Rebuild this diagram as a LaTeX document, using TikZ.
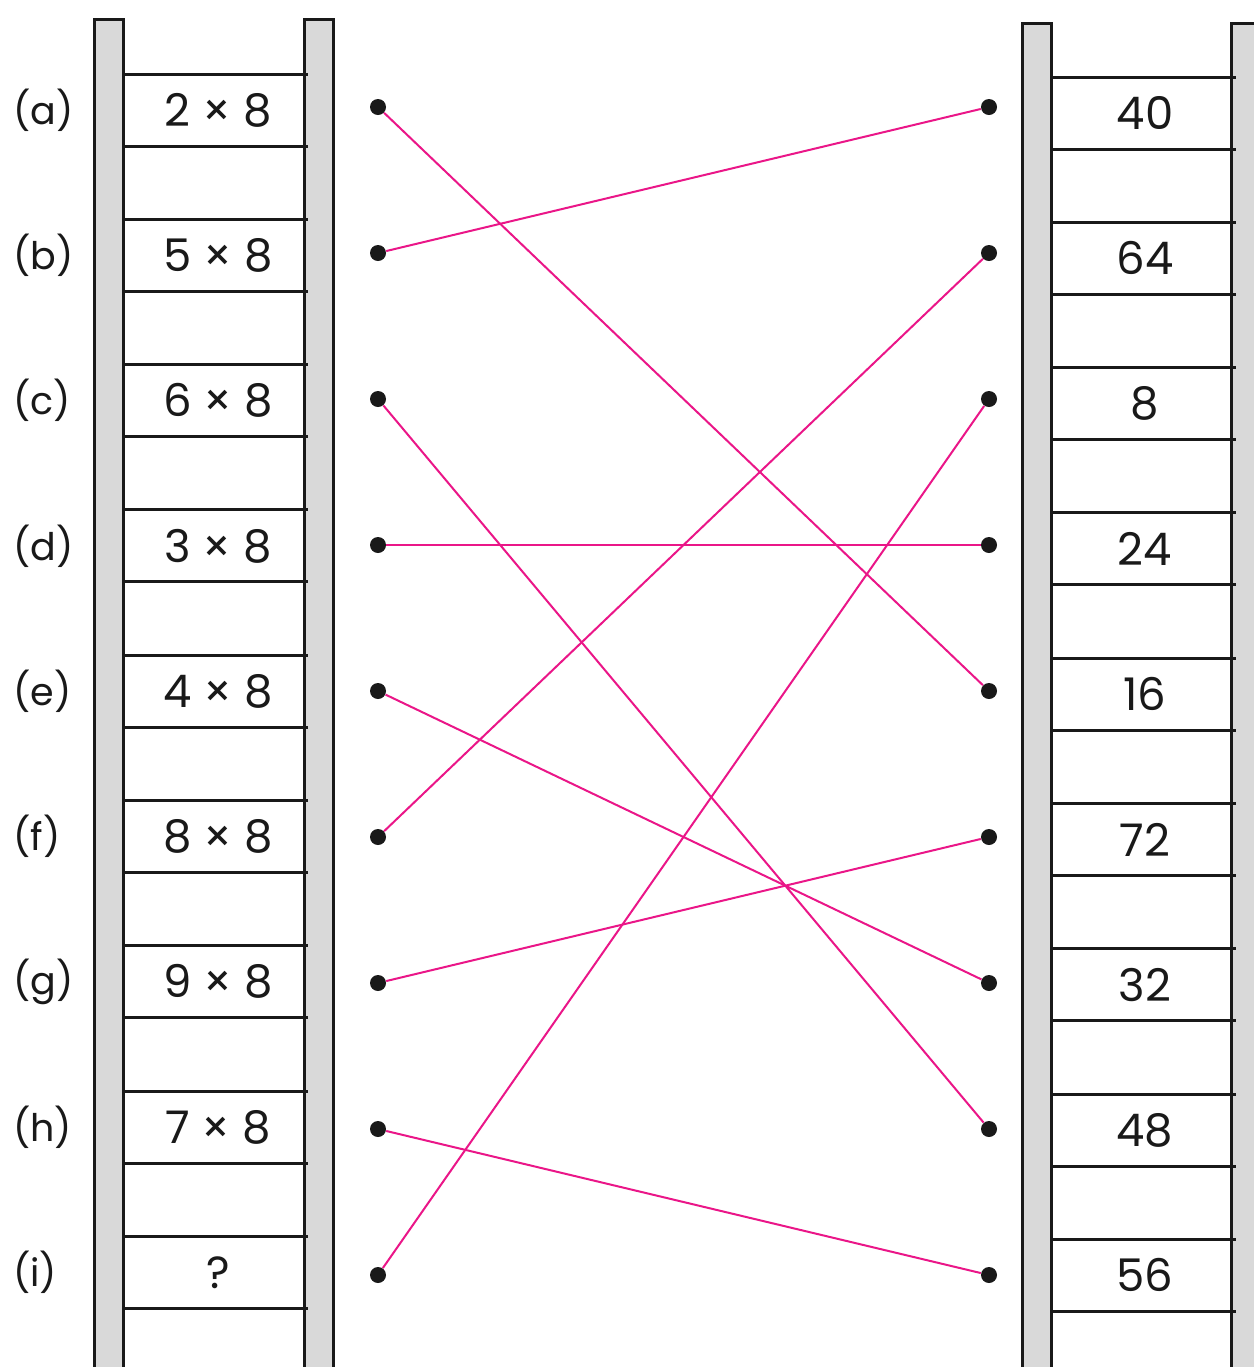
\documentclass[tikz,border=0pt]{standalone}
\usepackage{fontspec}
\setmainfont{Poppins}
\definecolor{linkpink}{RGB}{234,22,136}
\definecolor{railgray}{RGB}{217,217,217}

\begin{document}
\begin{tikzpicture}[x=0.5pt, y=-0.5pt,
    rail/.style={draw=black!90, fill=railgray, line width=1.5pt},
    rung/.style={draw=black!90, line width=1.5pt},
    boxtext/.style={font=\fontsize{22.5}{26}\selectfont, text=black!90},
    tag/.style={font=\fontsize{19}{22}\selectfont, text=black!90, anchor=west, inner sep=0pt},
    dot/.style={circle, fill=black!90, inner sep=0pt, minimum size=8pt},
    link/.style={draw=linkpink, line width=1pt}
]
    \useasboundingbox (0,0) rectangle (1254,1367);
    \clip (0,0) rectangle (1254,1367);

    % Left ladder
    \draw[rail] (94.5,19.5) rectangle (123.5,1400);
    \draw[rail] (304.5,19.5) rectangle (333.5,1400);
    \foreach \lbl/\prod [count=\i from 0] in {a/2 × 8, b/5 × 8, c/6 × 8, d/3 × 8, e/4 × 8, f/8 × 8, g/9 × 8, h/7 × 8, i/?} {
        \pgfmathsetmacro{\yy}{110+145.3*\i}
        \draw[rung] (122,\yy-36) -- (308,\yy-36);
        \draw[rung] (122,\yy+36) -- (308,\yy+36);
        \node[boxtext] (p\lbl) at (218,\yy) {\prod};
        \node[tag] (t\lbl) at (13,\yy) {(\lbl)};
        \node[dot] (l\lbl) at (378,107+146*\i) {};
    }

    % Right ladder
    \draw[rail] (1022,23) rectangle (1051.5,1400);
    \draw[rail] (1231.5,23) rectangle (1270,1400);
    \foreach \val [count=\i from 0] in {40,64,8,24,16,72,32,48,56} {
        \pgfmathsetmacro{\yy}{113+145.3*\i}
        \draw[rung] (1051,\yy-36) -- (1236,\yy-36);
        \draw[rung] (1051,\yy+36) -- (1236,\yy+36);
        \node[boxtext] (v\val) at (1145,\yy) {\val};
        \node[dot] (r\val) at (989,107+146*\i) {};
    }

    % Links
    \draw[link] (la) -- (r16);
    \draw[link] (lb) -- (r40);
    \draw[link] (lc) -- (r48);
    \draw[link] (ld) -- (r24);
    \draw[link] (le) -- (r32);
    \draw[link] (lf) -- (r64);
    \draw[link] (lg) -- (r72);
    \draw[link] (lh) -- (r56);
    \draw[link] (li) -- (r8);
\end{tikzpicture}
\end{document}
